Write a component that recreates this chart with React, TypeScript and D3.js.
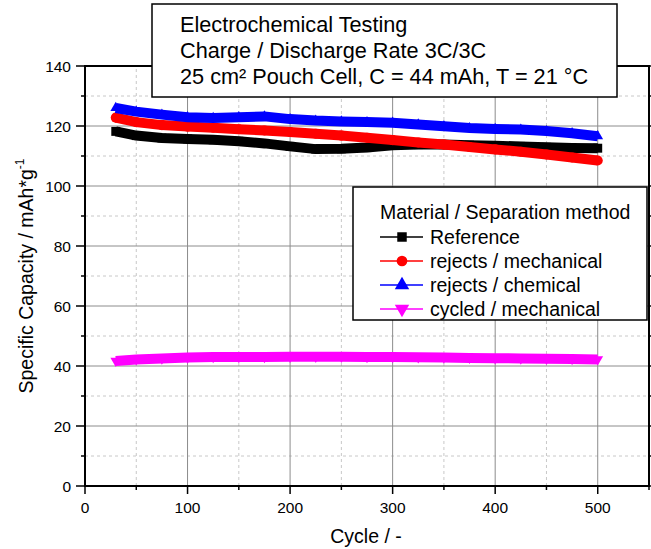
import React from "react";
import * as d3 from "d3";

// cycle numbers
const cycles = [30, 50, 75, 100, 125, 150, 175, 200, 225, 250, 275, 300, 325, 350, 375, 400, 425, 450, 475, 500];

const reference = [118.2, 116.8, 116.0, 115.7, 115.4, 114.9, 114.2, 113.2, 112.3, 112.4, 112.8, 113.6, 113.8, 113.8, 113.6, 113.4, 113.2, 112.9, 112.7, 112.6];
const rejectsMech = [122.8, 121.3, 120.3, 119.8, 119.4, 118.9, 118.5, 118.0, 117.4, 116.8, 116.1, 115.3, 114.5, 113.8, 113.0, 112.2, 111.4, 110.5, 109.5, 108.5];
const rejectsChem = [126.0, 124.8, 123.8, 122.9, 122.7, 122.9, 123.2, 122.3, 121.8, 121.5, 121.3, 121.1, 120.5, 119.9, 119.3, 119.0, 118.8, 118.3, 117.6, 116.6];
const cycledMech = [41.7, 42.2, 42.5, 42.8, 43.0, 43.0, 43.0, 43.1, 43.1, 43.1, 43.0, 43.0, 42.9, 42.8, 42.7, 42.6, 42.5, 42.4, 42.3, 42.2];

const seriesNames = ["Reference", "rejects / mechanical", "rejects / chemical", "cycled / mechanical"];
const seriesColors = ["#000000", "#ff0000", "#0000ff", "#ff00ff"];
const seriesSymbols = [d3.symbolSquare, d3.symbolCircle, d3.symbolTriangle, d3.symbolTriangle];
const seriesValues = [reference, rejectsMech, rejectsChem, cycledMech];

const xTicks = [0, 100, 200, 300, 400, 500];
const yTicks = [0, 20, 40, 60, 80, 100, 120, 140];
const titleLines = ["Electrochemical Testing", "Charge / Discharge Rate 3C/3C", "25 cm² Pouch Cell, C = 44 mAh, T = 21 °C"];

const W = 651;
const H = 549;
const margin = { left: 85, right: 2, top: 66, bottom: 63 };
const font = "'Liberation Sans', Arial, sans-serif";

export default function App() {
    const x = d3.scaleLinear().domain([0, 550]).range([margin.left, W - margin.right]);
    const y = d3.scaleLinear().domain([0, 140]).range([H - margin.bottom, margin.top]);
    const x0 = x(0), x1 = x(550), y0 = y(0), y1 = y(140);

    const minorX = d3.range(50, 550, 100);
    const minorY = d3.range(10, 140, 20);

    const line = d3.line<number>()
        .x((d, i) => x(cycles[i]))
        .y((d) => y(d));

    const sym = (i: number, size: number) => d3.symbol().type(seriesSymbols[i]).size(size)() as string;
    const symTransform = (i: number) => (i === 3 ? " rotate(180)" : "");
    // smaller markers on the curves so the dense band stays smooth
    const curveSize = (i: number) => (i >= 2 ? 50 : 80);

    return (
        <svg width={W} height={H} style={{ position: "absolute", left: 0, top: 0 }} fontFamily={font}>
            <rect width={W} height={H} fill="#fff" />
            {/* minor grid */}
            {minorX.map((v) => (
                <line key={"mx" + v} x1={x(v)} x2={x(v)} y1={y0} y2={y1} stroke="#c8c8c8" strokeDasharray="3,3" />
            ))}
            {minorY.map((v) => (
                <line key={"my" + v} x1={x0} x2={x1} y1={y(v)} y2={y(v)} stroke="#c8c8c8" strokeDasharray="3,3" />
            ))}
            {/* major grid */}
            {xTicks.slice(1).map((v) => (
                <line key={"gx" + v} x1={x(v)} x2={x(v)} y1={y0} y2={y1} stroke="#8c8c8c" />
            ))}
            {yTicks.slice(1, -1).map((v) => (
                <line key={"gy" + v} x1={x0} x2={x1} y1={y(v)} y2={y(v)} stroke="#8c8c8c" />
            ))}

            {/* series */}
            {seriesValues.map((vals, i) => (
                <g key={"s" + i} fill={seriesColors[i]}>
                    <path d={line(vals) as string} fill="none" stroke={seriesColors[i]} strokeWidth={10} />
                    {vals.map((v, j) => (
                        <path key={j} d={sym(i, curveSize(i))} transform={`translate(${x(cycles[j])},${y(v)})${symTransform(i)}`} />
                    ))}
                </g>
            ))}

            {/* frame */}
            <rect x={x0} y={y1} width={x1 - x0} height={y0 - y1} fill="none" stroke="#000" strokeWidth={2} />

            {/* x ticks */}
            {d3.range(0, 551, 50).map((v) => (
                <line key={"tx" + v} x1={x(v)} x2={x(v)} y1={y0} y2={y0 + (v % 100 === 0 ? 8 : 4)} stroke="#000" strokeWidth={1.5} />
            ))}
            {xTicks.map((v) => (
                <text key={"lx" + v} x={x(v)} y={y0 + 27} textAnchor="middle" fontSize={15.5}>{v}</text>
            ))}
            {/* y ticks */}
            {d3.range(0, 141, 10).map((v) => (
                <g key={"ty" + v}>
                    <line x1={x0} x2={x0 - (v % 20 === 0 ? 9 : 4)} y1={y(v)} y2={y(v)} stroke="#000" strokeWidth={1.5} />
                    <line x1={x1} x2={x1 + 4} y1={y(v)} y2={y(v)} stroke="#000" strokeWidth={1.5} />
                </g>
            ))}
            {yTicks.map((v) => (
                <text key={"ly" + v} x={x0 - 14} y={y(v) + 5.5} textAnchor="end" fontSize={15.5}>{v}</text>
            ))}

            {/* axis titles */}
            <text x={(x0 + x1) / 2 - 1} y={543} textAnchor="middle" fontSize={19.5}>Cycle / -</text>
            <text transform={`translate(33,${(y0 + y1) / 2}) rotate(-90)`} textAnchor="middle" fontSize={19.5}>
                Specific Capacity / mAh*g<tspan fontSize={12} dy={-9}>-1</tspan>
            </text>

            {/* title box */}
            <rect x={152} y={4} width={465} height={93} fill="#fff" stroke="#000" strokeWidth={1.5} />
            {titleLines.map((t, i) => (
                <text key={"t" + i} x={180} y={32 + i * 26} fontSize={21.7}>{t}</text>
            ))}

            {/* legend */}
            <rect x={353} y={187} width={294} height={133} fill="#fff" stroke="#000" strokeWidth={1.5} />
            <text x={380} y={219} fontSize={19.5}>Material / Separation method</text>
            {seriesNames.map((name, i) => {
                const ly = 237 + i * 24;
                return (
                    <g key={"lg" + i}>
                        <line x1={380} x2={423} y1={ly} y2={ly} stroke={seriesColors[i]} strokeWidth={1.5} />
                        <path d={sym(i, 90)} fill={seriesColors[i]} transform={`translate(402,${ly})${symTransform(i)}`} />
                        <text x={430} y={ly + 7} fontSize={19.5}>{name}</text>
                    </g>
                );
            })}
        </svg>
    );
}
